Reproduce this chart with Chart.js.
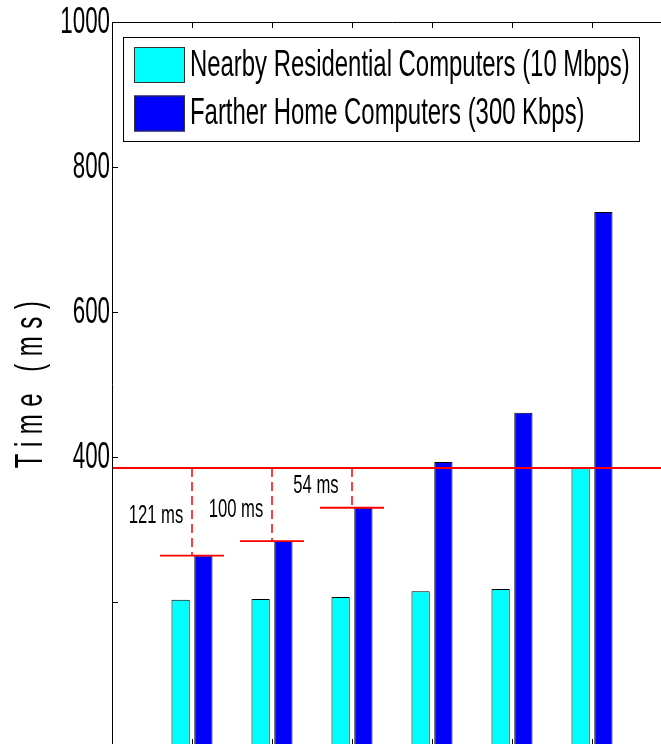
<!DOCTYPE html>
<html>
<head>
<meta charset="utf-8">
<script src="https://cdn.jsdelivr.net/npm/chart.js@4.4.0/dist/chart.umd.min.js"></script>
<style>
  html, body { margin: 0; padding: 0; background: #fff; overflow: hidden; }
  #chart { display: block; }
</style>
</head>
<body>
<canvas id="chart" width="700" height="760"></canvas>
<script>
// Values (ms)
const groups = [1, 2, 3, 4, 5, 6];
const nearbyTimes = [203, 204, 207, 215, 218, 385];
const fartherTimes = [264, 284, 330, 393, 461, 738];
const seriesNames = ['Nearby Residential Computers (10 Mbps)', 'Farther Home Computers (300 Kbps)'];
const seriesColors = ['#00ffff', '#0000ff'];
const thresholdTime = 385;
const gapLabels = ['121 ms', '100 ms', '54 ms'];
const yTickValues = [200, 400, 600, 800, 1000];
const yTickLabels = ['', '400', '600', '800', '1000'];
const yTitle = 'Time (ms)';

const FONT = '"Liberation Sans", Arial, Helvetica, sans-serif';

// text squeezed horizontally, like the original figure
function squeezedText(ctx, str, x, y, size, sx, align) {
  ctx.save();
  ctx.translate(x, y);
  ctx.scale(sx, 1);
  ctx.font = size + 'px ' + FONT;
  ctx.textAlign = align;
  ctx.textBaseline = 'middle';
  ctx.fillStyle = '#000';
  ctx.fillText(str, 0, 0);
  ctx.restore();
}

// build datasets
const datasets = [];

datasets.push({
  type: 'line',
  data: [{ x: 0, y: thresholdTime }, { x: 7, y: thresholdTime }],
  borderColor: '#ff0000',
  borderWidth: 2,
  pointRadius: 0,
  order: 0
});

gapLabels.forEach(function(lbl, i) {
  const g = groups[i];
  // short mark at top of the far bar
  datasets.push({
    type: 'line',
    data: [{ x: g - 0.4, y: fartherTimes[i] }, { x: g + 0.4, y: fartherTimes[i] }],
    borderColor: '#ff0000',
    borderWidth: 1.8,
    pointRadius: 0,
    order: 0
  });
  // dashed drop from threshold
  datasets.push({
    type: 'line',
    data: [{ x: g, y: thresholdTime }, { x: g, y: fartherTimes[i] }],
    borderColor: '#ff0000',
    borderWidth: 1.5,
    borderDash: [9, 5],
    pointRadius: 0,
    order: 0
  });
});

datasets.push({
  type: 'bar',
  label: seriesNames[0],
  data: groups.map((g, i) => ({ x: g, y: nearbyTimes[i] })),
  backgroundColor: seriesColors[0],
  borderColor: '#000',
  borderWidth: 1,
  borderSkipped: false,
  categoryPercentage: 0.57,
  barPercentage: 0.8,
  order: 1
});
datasets.push({
  type: 'bar',
  label: seriesNames[1],
  data: groups.map((g, i) => ({ x: g, y: fartherTimes[i] })),
  backgroundColor: seriesColors[1],
  borderColor: '#000',
  borderWidth: 1,
  borderSkipped: false,
  categoryPercentage: 0.57,
  barPercentage: 0.8,
  order: 1
});

// axes frame, inward ticks, labels, legend
const decorations = {
  id: 'decorations',
  afterDatasetsDraw(chart) {
    const ctx = chart.ctx;
    const area = chart.chartArea;
    const xs = chart.scales.x;
    const ys = chart.scales.y;

    ctx.save();
    ctx.strokeStyle = '#000';
    ctx.lineWidth = 1;
    ctx.beginPath();
    ctx.moveTo(area.left + 0.5, area.bottom);
    ctx.lineTo(area.left + 0.5, area.top + 0.5);
    ctx.lineTo(area.right, area.top + 0.5);
    ctx.stroke();

    // x ticks, top and bottom, pointing in
    ctx.beginPath();
    groups.forEach(function(g) {
      const px = Math.round(xs.getPixelForValue(g)) + 0.5;
      ctx.moveTo(px, area.top);
      ctx.lineTo(px, area.top + 6);
      ctx.moveTo(px, area.bottom);
      ctx.lineTo(px, area.bottom - 8);
    });
    // y ticks
    yTickValues.forEach(function(v) {
      const py = Math.round(ys.getPixelForValue(v)) + 0.5;
      ctx.moveTo(area.left, py);
      ctx.lineTo(area.left + 6, py);
    });
    ctx.stroke();
    ctx.restore();

    yTickValues.forEach(function(v, i) {
      if (yTickLabels[i]) squeezedText(ctx, yTickLabels[i], area.left - 2, ys.getPixelForValue(v) + 1, 36, 0.62, 'right');
    });

    // gap labels between threshold and far bars
    const labelOffsets = [4, 5, -2];
    gapLabels.forEach(function(lbl, i) {
      const px = xs.getPixelForValue(groups[i] - 0.45);
      const py = ys.getPixelForValue((thresholdTime + fartherTimes[i]) / 2) + labelOffsets[i];
      squeezedText(ctx, lbl, px, py, 26, 0.64, 'center');
    });

    // y title
    ctx.save();
    ctx.translate(42, 381);
    ctx.rotate(-Math.PI / 2);
    ctx.scale(1, 1.6);
    ctx.font = '24px ' + FONT;
    ctx.letterSpacing = '7.5px';
    ctx.textAlign = 'center';
    ctx.textBaseline = 'alphabetic';
    ctx.fillStyle = '#000';
    ctx.fillText(yTitle, 0, 0);
    ctx.restore();

    // legend box
    const lx = 123.5, ly = 37.5, lw = 516, lh = 104;
    ctx.save();
    ctx.fillStyle = '#fff';
    ctx.fillRect(lx, ly, lw, lh);
    ctx.strokeStyle = '#000';
    ctx.lineWidth = 1;
    ctx.strokeRect(lx, ly, lw, lh);
    seriesNames.forEach(function(name, i) {
      const sy = 47 + i * 48.5;
      ctx.fillStyle = seriesColors[i];
      ctx.fillRect(134, sy, 51, 36);
      ctx.strokeStyle = '#333';
      ctx.strokeRect(134.5, sy + 0.5, 50, 35);
      squeezedText(ctx, name, 190, sy + 19, 36, 0.664, 'left');
    });
    ctx.restore();
  }
};

new Chart(document.getElementById('chart'), {
  type: 'bar',
  data: { datasets: datasets },
  options: {
    responsive: false,
    devicePixelRatio: 1,
    animation: false,
    layout: { padding: { left: 0, top: 22, right: 28, bottom: 13 } },
    plugins: {
      legend: { display: false },
      tooltip: { enabled: false }
    },
    scales: {
      x: {
        type: 'linear',
        min: 0,
        max: 7,
        offset: false,
        display: false,
        ticks: { stepSize: 1 }
      },
      y: {
        min: 0,
        max: 1000,
        ticks: { stepSize: 200, display: false },
        grid: { display: false },
        border: { display: false },
        afterFit: function(scale) { scale.width = 112; }
      }
    }
  },
  plugins: [decorations]
});
</script>
</body>
</html>
